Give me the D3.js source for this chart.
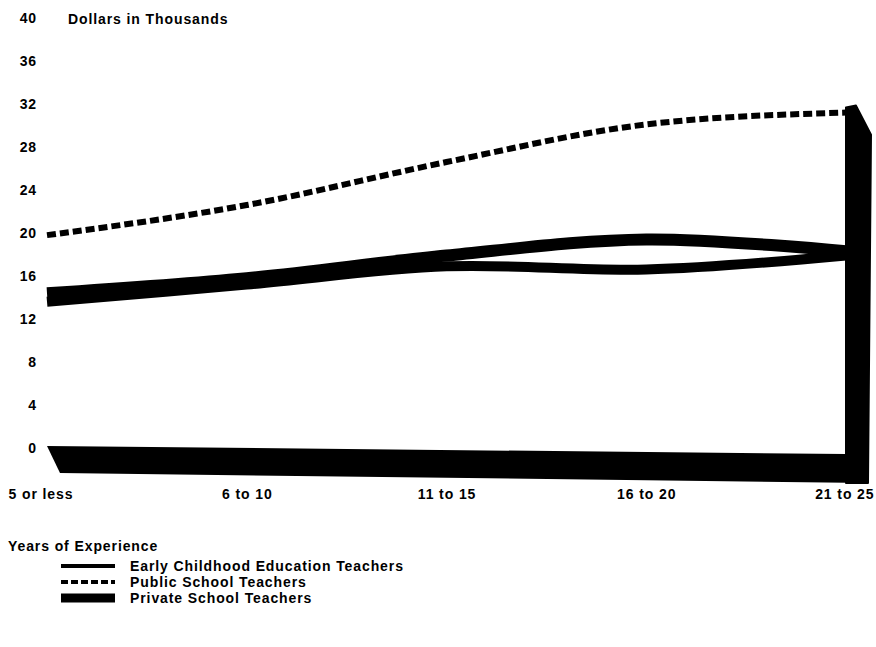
<!DOCTYPE html>
<html>
<head>
<meta charset="utf-8">
<script src="https://cdn.jsdelivr.net/npm/d3@7"></script>
<style>
  html, body { margin: 0; padding: 0; background: #fff; }
  svg text { font-family: "Liberation Sans", Arial, sans-serif; font-weight: bold; fill: #000; letter-spacing: 0.9px; }
</style>
</head>
<body>
<svg id="chart" width="876" height="647"></svg>
<script>
// ---- data ----
const categories = ["5 or less", "6 to 10", "11 to 15", "16 to 20", "21 to 25"];
const earlyChildhood = [13.6, 15.2, 16.9, 16.6, 17.9];
const publicSchool   = [19.8, 22.6, 26.6, 30.1, 31.2];
const privateSchool  = [14.4, 15.8, 17.9, 19.4, 18.3];
const yTicks = [0, 4, 8, 12, 16, 20, 24, 28, 32, 36, 40];
const seriesNames = ["Early Childhood Education Teachers", "Public School Teachers", "Private School Teachers"];

const svg = d3.select("#chart");

const x = d3.scalePoint().domain(categories).range([47, 846]);
const y = d3.scaleLinear().domain([0, 40]).range([448, 18]);

// ---- 3D floor and right wall ----
const depthX = 13, depthY = 26;
const x0 = x(categories[0]), x1 = x(categories[categories.length - 1]);
const floorPts = [
  [x0, y(0) - 2], [x1, y(0) + 6], [x1 + 22, y(0) + 35], [x0 + depthX, y(0) + depthY - 1]
];
svg.append("polygon")
  .attr("points", floorPts.map(p => p.join(",")).join(" "))
  .attr("fill", "#000");
const wallPts = [
  [x1, y(publicSchool[4]) - 5], [x1 + 10, y(publicSchool[4]) - 7],
  [x1 + 25, y(publicSchool[4]) + 22], [x1 + 22, y(0) + 35], [x1, y(0) + 35]
];
svg.append("polygon")
  .attr("points", wallPts.map(p => p.join(",")).join(" "))
  .attr("fill", "#000").attr("stroke", "#000").attr("stroke-width", 2).attr("stroke-linejoin", "round");

// ---- axes ----
const yAxis = d3.axisLeft(y).tickValues(yTicks).tickSize(0).tickPadding(0);
svg.append("g").attr("transform", "translate(37,0)").call(yAxis)
  .call(g => g.select(".domain").remove())
  .selectAll("text").attr("font-size", 14).attr("font-family", null).attr("fill", "#000");

const xAxis = d3.axisBottom(x).tickSize(0).tickPadding(0);
const last = categories.length - 1;
svg.append("g").attr("transform", "translate(0,489)").call(xAxis)
  .call(g => g.select(".domain").remove())
  .selectAll("text").attr("font-size", 14).attr("font-family", null).attr("fill", "#000")
  .attr("text-anchor", (d, i) => i === 0 ? "start" : (i === last ? "end" : "middle"))
  .attr("dx", (d, i) => i === 0 ? -39 : (i === last ? 28 : 0));

svg.append("text").attr("x", 68).attr("y", 24).attr("font-size", 14).text("Dollars in Thousands");
svg.append("text").attr("x", 8).attr("y", 551).attr("font-size", 14).text("Years of Experience");

// ---- lines ----
const lineStraight = d3.line().x((d, i) => x(categories[i])).y(d => y(d)).curve(d3.curveCatmullRom.alpha(0.5));
const lineSmooth = d3.line().x((d, i) => x(categories[i])).y(d => y(d)).curve(d3.curveMonotoneX);

svg.append("path").datum(earlyChildhood).attr("d", lineStraight)
  .attr("fill", "none").attr("stroke", "#000").attr("stroke-width", 10).attr("stroke-linejoin", "round");
svg.append("path").datum(privateSchool).attr("d", lineStraight)
  .attr("fill", "none").attr("stroke", "#000").attr("stroke-width", 12).attr("stroke-linejoin", "round");
svg.append("path").datum(publicSchool).attr("d", lineSmooth)
  .attr("fill", "none").attr("stroke", "#000").attr("stroke-width", 6)
  .attr("stroke-dasharray", "9,4");

// ---- legend ----
const legendStyles = [
  { w: 4, dash: null },
  { w: 4, dash: "7,3" },
  { w: 9, dash: null }
];
const leg = svg.append("g");
seriesNames.forEach((name, i) => {
  const ly = 566 + i * 16;
  leg.append("line").attr("x1", 61).attr("x2", 115).attr("y1", ly).attr("y2", ly)
    .attr("stroke", "#000").attr("stroke-width", legendStyles[i].w)
    .attr("stroke-dasharray", legendStyles[i].dash);
  leg.append("text").attr("x", 130).attr("y", ly + 5).attr("font-size", 14).text(name);
});
</script>
</body>
</html>
